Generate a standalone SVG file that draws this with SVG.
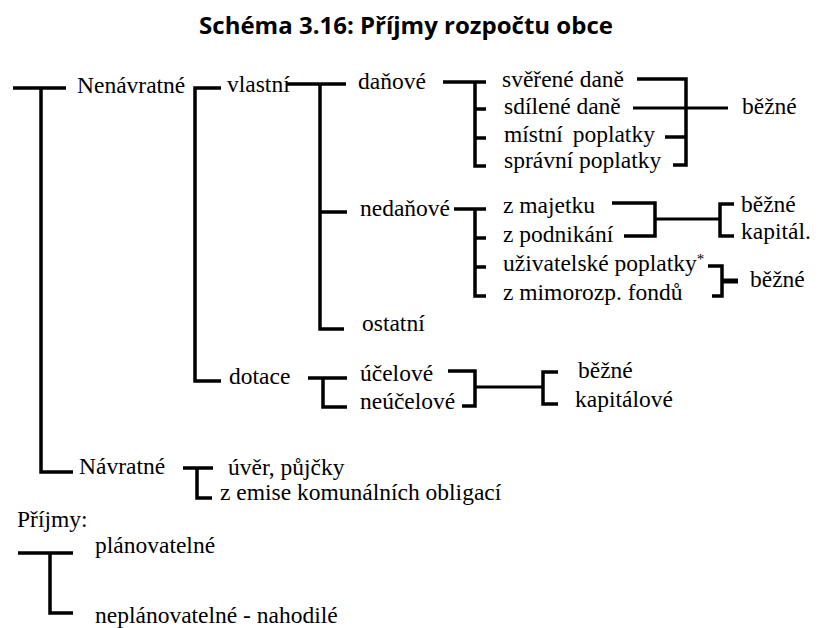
<svg xmlns="http://www.w3.org/2000/svg" width="820" height="628" viewBox="0 0 820 628">
<style>
.t{font-family:'Liberation Serif','Times New Roman',serif;font-size:23.5px;fill:#000}
.title{font-family:'Open Sans','Noto Sans',sans-serif;font-size:24px;font-weight:bold;fill:#000}
.c path{fill:none;stroke:#000;stroke-width:3.5;stroke-linecap:butt;stroke-linejoin:miter}
.c .thin{stroke-width:3}
.c .bold{stroke-width:5}
.sup{font-size:15px}
</style>
<rect width="820" height="628" fill="#fff"/>
<text class="title" x="406" y="34" text-anchor="middle">Schéma 3.16: Příjmy rozpočtu obce</text>
<g class="c" id="connectors">
<path d="M13,88 H66 M41,88 V472 H73"/>
<path d="M221,88 H195 V381 H221"/>
<path d="M287,84 H346 M320,84 V329 H344 M320,212 H347"/>
<path d="M443,82 H486 M475,82 V166 H486 M475,109 H486 M475,138 H486"/>
<path d="M637,79 H686 V165 H673 M665,137 H686"/>
<path class="thin" d="M633,108 H728"/>
<path d="M454,209 H486 M475,209 V296 H486 M475,238 H486 M475,267 H486"/>
<path d="M612,203 H655 V236 H624"/>
<path class="thin" d="M655,219 H720"/>
<path d="M734,204 H720 V236 H734"/>
<path d="M708,266 H722 V296 H712"/>
<path class="bold" d="M722,281 H738"/>
<path d="M308,378 H347 M323,378 V407 H347"/>
<path d="M448,371 H475 V406 H462"/>
<path class="thin" d="M475,387 H543"/>
<path d="M558,372 H543 V404 H558"/>
<path d="M183,468 H213 M197,468 V498 H212"/>
<path d="M18,553 H73 M50,553 V613 H73"/>
</g>
<g id="n-nenavratne"><text class="t" x="77" y="93">Nenávratné</text></g>
<g id="n-vlastni"><text class="t" x="227" y="92">vlastní</text></g>
<g id="n-danove"><text class="t" x="358" y="89">daňové</text></g>
<g id="n-sverene"><text class="t" x="502" y="87">svěřené daně</text></g>
<g id="n-sdilene"><text class="t" x="504" y="114">sdílené daně</text></g>
<g id="n-mistni"><text class="t" x="504" y="142" word-spacing="4">místní poplatky</text></g>
<g id="n-spravni"><text class="t" x="504" y="168">správní poplatky</text></g>
<g id="n-bezne1"><text class="t" x="742" y="114">běžné</text></g>
<g id="n-nedanove"><text class="t" x="360" y="216">nedaňové</text></g>
<g id="n-majetek"><text class="t" x="503" y="213">z majetku</text></g>
<g id="n-podnikani"><text class="t" x="503" y="242">z podnikání</text></g>
<g id="n-uzivatelske"><text class="t" x="503" y="271">uživatelské poplatky<tspan class="sup" dy="-7">*</tspan></text></g>
<g id="n-mimorozp"><text class="t" x="503" y="300">z mimorozp. fondů</text></g>
<g id="n-bezne2"><text class="t" x="741" y="212">běžné</text></g>
<g id="n-kapital"><text class="t" x="741" y="239">kapitál.</text></g>
<g id="n-bezne3"><text class="t" x="750" y="287">běžné</text></g>
<g id="n-ostatni"><text class="t" x="362" y="331">ostatní</text></g>
<g id="n-dotace"><text class="t" x="229" y="384">dotace</text></g>
<g id="n-ucelove"><text class="t" x="360" y="381">účelové</text></g>
<g id="n-neucelove"><text class="t" x="360" y="409">neúčelové</text></g>
<g id="n-bezne4"><text class="t" x="578" y="378">běžné</text></g>
<g id="n-kapitalove"><text class="t" x="575" y="407">kapitálové</text></g>
<g id="n-navratne"><text class="t" x="79" y="474">Návratné</text></g>
<g id="n-uver"><text class="t" x="228" y="475">úvěr, půjčky</text></g>
<g id="n-emise"><text class="t" x="220" y="500">z emise komunálních obligací</text></g>
<g id="n-prijmy"><text class="t" x="17" y="527">Příjmy:</text></g>
<g id="n-planovatelne"><text class="t" x="95" y="553">plánovatelné</text></g>
<g id="n-neplanovatelne"><text class="t" x="95" y="623">neplánovatelné - nahodilé</text></g>
</svg>
